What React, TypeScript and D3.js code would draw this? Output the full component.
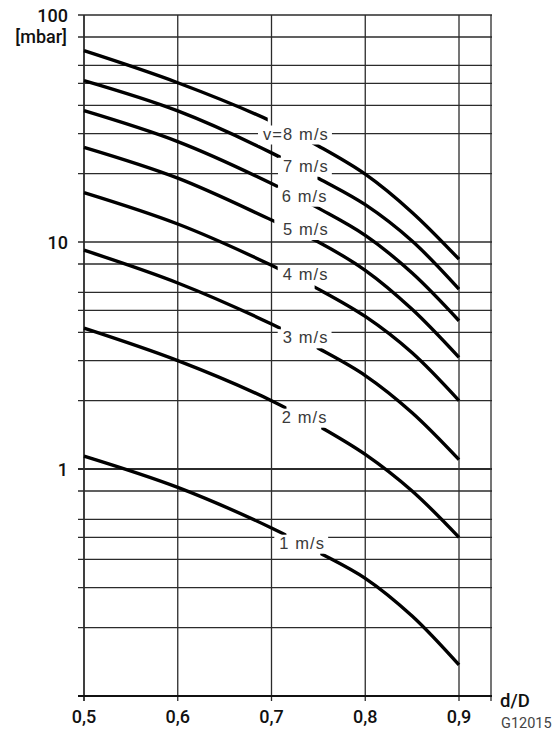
import { useEffect, useRef } from 'react';
import * as d3 from 'd3';

// d/D positions where the curves were read
const DD = [0.5, 0.6, 0.7, 0.75, 0.8, 0.85, 0.9];

// pressure loss [mbar] per velocity
const P_V8 = [69.6, 50.3, 34.0, 26.5, 19.9, 13.5, 8.4];
const P_V7 = [51.4, 37.8, 24.7, 19.1, 14.6, 10.1, 6.2];
const P_V6 = [37.9, 27.7, 18.1, 14.1, 10.7, 7.3, 4.5];
const P_V5 = [26.1, 19.1, 12.5, 10.0, 7.5, 5.05, 3.1];
const P_V4 = [16.5, 12.0, 7.9, 6.2, 4.7, 3.25, 2.0];
const P_V3 = [9.2, 6.6, 4.35, 3.4, 2.58, 1.77, 1.1];
const P_V2 = [4.17, 3.0, 2.0, 1.55, 1.16, 0.8, 0.5];
const P_V1 = [1.14, 0.83, 0.55, 0.43, 0.33, 0.225, 0.137];

const LABELS = ['v=8 m/s', '7 m/s', '6 m/s', '5 m/s', '4 m/s', '3 m/s', '2 m/s', '1 m/s'];
const SERIES = [P_V8, P_V7, P_V6, P_V5, P_V4, P_V3, P_V2, P_V1];

const X_TICKS = [0.5, 0.6, 0.7, 0.8, 0.9];
const X_TICK_LABELS = ['0,5', '0,6', '0,7', '0,8', '0,9'];
const Y_MAJOR = [100, 10, 1];
const Y_MAJOR_LABELS = ['100', '10', '1'];
const Y_GRID_MULT = [1, 2, 3, 4, 5, 6, 8];

// layout of the in-line labels: where the curve is broken (d/D) and the text anchor (px)
const LABEL_LAYOUT = [
  { gap: [0.696, 0.743], x: 263, y: 139.5 },
  { gap: [0.71, 0.749], x: 283, y: 171.7 },
  { gap: [0.707, 0.742], x: 281.7, y: 201.7 },
  { gap: [0.703, 0.737], x: 283, y: 235 },
  { gap: [0.71, 0.746], x: 282.7, y: 280 },
  { gap: [0.71, 0.748], x: 282.7, y: 343.3 },
  { gap: [0.716, 0.753], x: 281.7, y: 422.7 },
  { gap: [0.716, 0.752], x: 279.3, y: 548.7 },
];

const W = 560;
const H = 732;
const LEFT = 84;
const RIGHT = 491;
const TOP = 15;
const BOTTOM = 696;
const GRID = '#2b2b2b';

export default function App() {
  const svgRef = useRef<SVGSVGElement>(null);

  useEffect(() => {
    if (!svgRef.current) return;
    const svg = d3.select(svgRef.current);
    svg.selectAll('*').remove();

    const x = d3.scaleLinear().domain([0.5, 0.9]).range([LEFT, 459]);
    const y = d3.scaleLog().domain([0.1, 100]).range([BOTTOM, TOP]);

    const g = svg.append('g');

    // horizontal grid
    const gridVals: number[] = [];
    [0.1, 1, 10].forEach((d) => Y_GRID_MULT.forEach((m) => gridVals.push(d * m)));
    gridVals.push(100);
    gridVals
      .filter((v) => v > 0.1)
      .forEach((v) => {
        g.append('line')
          .attr('x1', LEFT - 6)
          .attr('x2', RIGHT + 1)
          .attr('y1', y(v))
          .attr('y2', y(v))
          .attr('stroke', GRID)
          .attr('stroke-width', Math.abs(v - 1) < 1e-9 ? 2 : 1.3);
      });

    // vertical grid
    X_TICKS.forEach((t) => {
      g.append('line')
        .attr('x1', x(t))
        .attr('x2', x(t))
        .attr('y1', TOP)
        .attr('y2', BOTTOM + 5)
        .attr('stroke', GRID)
        .attr('stroke-width', t === 0.5 ? 1.8 : 1.3);
    });
    g.append('line')
      .attr('x1', RIGHT)
      .attr('x2', RIGHT)
      .attr('y1', TOP)
      .attr('y2', BOTTOM + 5)
      .attr('stroke', GRID)
      .attr('stroke-width', 1.3);

    // bottom axis
    g.append('line')
      .attr('x1', LEFT - 6)
      .attr('x2', RIGHT + 1)
      .attr('y1', BOTTOM)
      .attr('y2', BOTTOM)
      .attr('stroke', '#111')
      .attr('stroke-width', 2);

    // curves with gaps for labels
    const line = d3
      .line<number>()
      .x((_, i) => x(DD[i]))
      .y((d) => y(d))
      .curve(d3.curveCatmullRom.alpha(0.5));

    const defs = svg.append('defs');
    SERIES.forEach((vals, i) => {
      const [a, b] = LABEL_LAYOUT[i].gap;
      const cp = defs.append('clipPath').attr('id', `gap-${i}`);
      cp.append('rect').attr('x', 0).attr('y', 0).attr('width', x(a)).attr('height', H);
      cp.append('rect').attr('x', x(b)).attr('y', 0).attr('width', W - x(b)).attr('height', H);
      g.append('path')
        .attr('d', line(vals))
        .attr('fill', 'none')
        .attr('stroke', '#000')
        .attr('stroke-width', 3.4)
        .attr('clip-path', `url(#gap-${i})`);
    });

    // in-line labels with white backing (breaks the grid too)
    LABELS.forEach((lab, i) => {
      const { x: lx, y: ly } = LABEL_LAYOUT[i];
      const rect = g.append('rect').attr('fill', '#fff');
      const t = g
        .append('text')
        .attr('x', lx)
        .attr('y', ly)
        .attr('font-family', '"Liberation Sans", Arial, sans-serif')
        .attr('font-size', 16.5)
        .attr('letter-spacing', 1.1)
        .attr('fill', '#3a3a3a')
        .text(lab);
      const bb = (t.node() as SVGTextElement).getBBox();
      rect
        .attr('x', bb.x - 5)
        .attr('y', ly - 14)
        .attr('width', bb.width + 8)
        .attr('height', 19);
    });

    // y tick labels
    const tickFont = 'Roboto, "Liberation Sans", sans-serif';
    Y_MAJOR.forEach((v, i) => {
      g.append('text')
        .attr('x', 68)
        .attr('y', y(v) + 7)
        .attr('text-anchor', 'end')
        .attr('font-family', tickFont)
        .attr('font-weight', 500)
        .attr('font-size', 18)
        .attr('fill', '#111')
        .text(Y_MAJOR_LABELS[i]);
    });
    g.append('text')
      .attr('x', 67)
      .attr('y', 43)
      .attr('text-anchor', 'end')
      .attr('font-family', tickFont)
      .attr('font-weight', 500)
      .attr('font-size', 18)
      .attr('fill', '#111')
      .text('[mbar]');

    // x tick labels
    X_TICKS.forEach((t, i) => {
      g.append('text')
        .attr('x', x(t))
        .attr('y', 723)
        .attr('text-anchor', 'middle')
        .attr('font-family', tickFont)
        .attr('font-weight', 500)
        .attr('font-size', 18)
        .attr('fill', '#111')
        .text(X_TICK_LABELS[i]);
    });

    g.append('text')
      .attr('x', 500)
      .attr('y', 707)
      .attr('font-family', tickFont)
      .attr('font-weight', 500)
      .attr('font-size', 18.5)
      .attr('fill', '#111')
      .text('d/D');

    g.append('text')
      .attr('x', 501)
      .attr('y', 728)
      .attr('font-family', tickFont)
      .attr('font-size', 14.5)
      .attr('fill', '#444')
      .text('G12015');
  }, []);

  return (
    <svg
      ref={svgRef}
      width={W}
      height={H}
      style={{ position: 'absolute', left: 0, top: 0, background: '#fff' }}
    />
  );
}
